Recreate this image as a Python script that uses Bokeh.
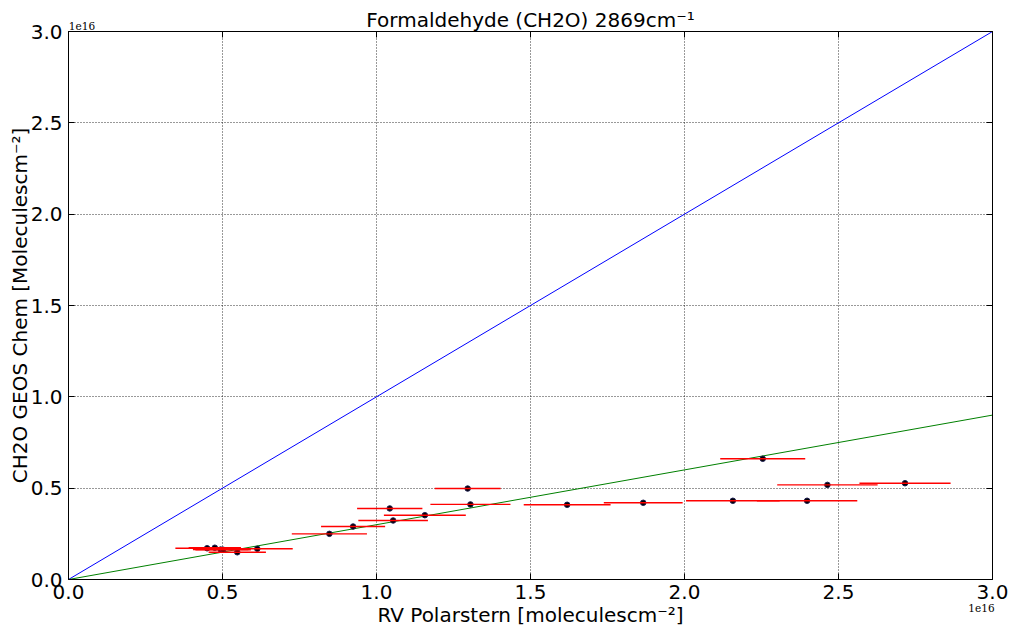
from bokeh.plotting import figure
from bokeh.models import (Range1d, LinearAxis, FixedTicker, PrintfTickFormatter,
                          CustomJSTickFormatter, ColumnDataSource)
from bokeh.embed import file_html
from bokeh.resources import INLINE

# ---- data (values in units of 1e16 molecules cm^-2, as on the axes) ----
offset_text = "1e16"
title_text = "Formaldehyde (CH2O) 2869cm\u207b\u00b9"
x_label = "RV Polarstern [moleculescm\u207b\u00b2]"
y_label = "CH2O GEOS Chem [Moleculescm\u207b\u00b2]"
rv_polarstern = [0.450, 0.475, 0.494, 0.502, 0.548, 0.613, 0.847, 0.924, 1.043, 1.054,
                 1.157, 1.296, 1.305, 1.619, 1.866, 2.157, 2.254, 2.398, 2.464, 2.716]
geos_chem = [0.171, 0.174, 0.164, 0.163, 0.149, 0.168, 0.250, 0.290, 0.389, 0.323,
             0.352, 0.498, 0.411, 0.409, 0.420, 0.431, 0.661, 0.431, 0.518, 0.527]
rv_error = [0.103, 0.085, 0.090, 0.090, 0.093, 0.115, 0.122, 0.104, 0.106, 0.113,
            0.133, 0.107, 0.130, 0.141, 0.128, 0.152, 0.138, 0.163, 0.163, 0.148]
one_to_one_x = [0.0, 3.0]
one_to_one_y = [0.0, 3.0]
fit_x = [0.0, 3.0]
fit_y = [0.0, 0.9]
ticks = [0.0, 0.5, 1.0, 1.5, 2.0, 2.5, 3.0]

# ---- layout (pixels) ----
W, H = 1011, 629
FL, FR, FT, FB = 68, 992, 31, 579  # frame edges

def dx(px):
    return (px - FL) / (FR - FL) * 3.0

SANS = "DejaVu Sans"
SERIF = "DejaVu Serif"

p = figure(width=W, height=H, x_range=Range1d(0, 3), y_range=Range1d(0, 3),
           output_backend="svg", toolbar_location=None, title=None,
           min_border_left=FL, min_border_right=W - FR, min_border_top=FT, min_border_bottom=H - FB)
p.background_fill_color = "white"
p.border_fill_color = "white"
p.outline_line_color = "black"
p.outline_line_width = 1
p.outline_line_alpha = 1

def style_ticks(ax):
    ax.major_tick_in = 6
    ax.major_tick_out = 0
    ax.minor_tick_in = 0
    ax.minor_tick_out = 0
    ax.axis_line_color = "black"
    ax.major_tick_line_color = "black"

for ax in (p.xaxis[0], p.yaxis[0]):
    ax.ticker = FixedTicker(ticks=ticks)
    ax.formatter = PrintfTickFormatter(format="%.1f")
    ax.major_label_text_font = SANS
    ax.major_label_text_font_size = "20px"
    ax.major_label_text_color = "black"
    style_ticks(ax)
    ax.axis_label_text_font = SANS
    ax.axis_label_text_font_size = "20px"
    ax.axis_label_text_font_style = "normal"
    ax.axis_label_text_color = "black"

p.xaxis[0].major_label_standoff = 5
p.xaxis[0].axis_label = None
p.yaxis[0].major_label_standoff = 6
p.yaxis[0].axis_label = y_label
p.yaxis[0].axis_label_standoff = -4

# tick-only axes on top and right
for loc in ("above", "right"):
    ax = LinearAxis(ticker=FixedTicker(ticks=ticks),
                    formatter=CustomJSTickFormatter(code="return ''"),
                    major_label_text_font_size="1px", major_label_standoff=0)
    style_ticks(ax)
    p.add_layout(ax, loc)

# title row with the offset text (drawn as an axis so it sits outside the frame)
top = LinearAxis(ticker=FixedTicker(ticks=[dx(81.5)]),
                 formatter=PrintfTickFormatter(format=offset_text),
                 major_label_text_font=SERIF, major_label_text_font_size="10.5px",
                 major_label_text_color="black", major_label_standoff=2,
                 major_tick_in=0, major_tick_out=0, minor_tick_in=0, minor_tick_out=0,
                 axis_line_color=None, major_tick_line_color=None,
                 axis_label=title_text, axis_label_text_font=SANS,
                 axis_label_text_font_size="20px", axis_label_text_font_style="normal",
                 axis_label_text_color="black", axis_label_standoff=-13)
p.add_layout(top, "above")

# x label row with the offset text
bot = LinearAxis(ticker=FixedTicker(ticks=[dx(981)]),
                 formatter=PrintfTickFormatter(format=offset_text),
                 major_label_text_font=SERIF, major_label_text_font_size="10.5px",
                 major_label_text_color="black", major_label_standoff=2,
                 major_tick_in=0, major_tick_out=0, minor_tick_in=0, minor_tick_out=0,
                 axis_line_color=None, major_tick_line_color=None,
                 axis_label=x_label, axis_label_text_font=SANS,
                 axis_label_text_font_size="20px", axis_label_text_font_style="normal",
                 axis_label_text_color="black", axis_label_standoff=-12)
p.add_layout(bot, "below")

p.grid.grid_line_color = "black"
p.grid.grid_line_dash = "1 2"
p.grid.grid_line_alpha = 0.8
p.grid.grid_line_width = 1

p.line(one_to_one_x, one_to_one_y, line_color="blue", line_width=1)
p.line(fit_x, fit_y, line_color="green", line_width=1)

src = ColumnDataSource(dict(
    x=rv_polarstern, y=geos_chem,
    left=[x - e for x, e in zip(rv_polarstern, rv_error)],
    right=[x + e for x, e in zip(rv_polarstern, rv_error)],
))
p.scatter("x", "y", source=src, size=5.5, fill_color="black", line_color="#1c1c50")
p.segment(x0="left", x1="right", y0="y", y1="y", source=src, line_color="red", line_width=1.4)

open("out.html", "w").write(file_html(p, INLINE))
